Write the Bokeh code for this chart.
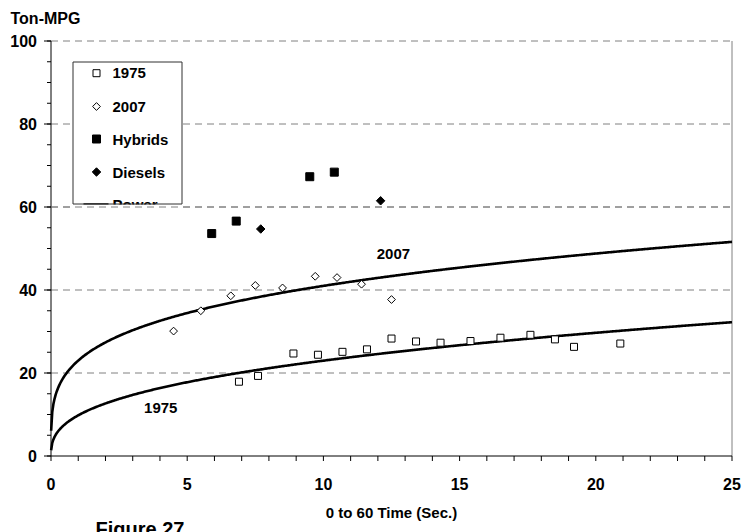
import numpy as np
from bokeh.plotting import figure
from bokeh.models import Range1d, Label
from bokeh.core.properties import value
from bokeh.embed import file_html
from bokeh.resources import INLINE

# ---------------- data ----------------
t_1975 = [6.9, 7.6, 8.9, 9.8, 10.7, 11.6, 12.5, 13.4, 14.3, 15.4, 16.5, 17.6, 18.5, 19.2, 20.9]
mpg_1975 = [17.9, 19.3, 24.7, 24.4, 25.1, 25.7, 28.3, 27.6, 27.3, 27.7, 28.5, 29.2, 28.1, 26.3, 27.1]
t_2007 = [4.5, 5.5, 6.6, 7.5, 8.5, 9.7, 10.5, 11.4, 12.5]
mpg_2007 = [30.1, 35.0, 38.6, 41.1, 40.5, 43.3, 43.0, 41.4, 37.7]
t_hybrids = [5.9, 6.8, 9.5, 10.4]
mpg_hybrids = [53.6, 56.6, 67.3, 68.4]
t_diesels = [7.7, 12.1]
mpg_diesels = [54.7, 61.5]
# power trend lines  y = a * x^b  (coefficients)
power_1975 = (9.8, 0.37)
power_2007 = (23.0, 0.251)
trend_x_start, trend_x_end = 0.005, 25.0
x_ticks = [0, 5, 10, 15, 20, 25]
x_minor_ticks = list(range(0, 26))
y_ticks = [0, 20, 40, 60, 80, 100]
y_minor_ticks = list(range(0, 101, 5))
legend_labels = ["1975", "2007", "Hybrids", "Diesels", "Power"]
x_title = "0 to 60 Time (Sec.)"
y_title = "Ton-MPG"
caption = "Figure 27"

# ---------------- layout (page pixels) ----------------
W, H = 742, 532
FL, FR, FT, FB = 50.5, 731.5, 40.5, 455.5      # plot area edges
XMAX, YMAX = 25.0, 100.0
FONT = "Liberation Sans"
GRID_COLOR = "#808080"
GRID_DASH = "7 5"


def px_x(px):
    return (px - FL) / (FR - FL) * XMAX


def px_y(py):
    return (FB - py) / (FB - FT) * YMAX


# the frame covers the whole page; the axes are drawn with the same scales
p = figure(width=W, height=H, x_range=Range1d(px_x(0), px_x(W)),
           y_range=Range1d(px_y(H), px_y(0)), output_backend="svg",
           toolbar_location=None, title=None, x_axis_location=None, y_axis_location=None,
           min_border=0)
p.outline_line_color = None
p.xgrid.visible = False
p.ygrid.visible = False

bold = dict(text_font=value(FONT), text_font_style="bold", text_color="black")

# grid lines and right border
for gy in y_ticks[1:]:
    p.line([0, XMAX], [gy, gy], line_color=GRID_COLOR, line_width=1, line_dash=GRID_DASH)
p.line([XMAX, XMAX], [0, YMAX], line_color=GRID_COLOR, line_width=1)

# y axis
p.line([0, 0], [0, YMAX], line_color="black", line_width=1)
p.segment(x0=[px_x(FL - 4)] * len(y_minor_ticks), y0=y_minor_ticks,
          x1=[0] * len(y_minor_ticks), y1=y_minor_ticks, line_color="black", line_width=1)
p.segment(x0=[px_x(FL - 7)] * len(y_ticks), y0=y_ticks,
          x1=[0] * len(y_ticks), y1=y_ticks, line_color="black", line_width=1)
p.text(x=[px_x(FL - 14)] * len(y_ticks), y=y_ticks, text=[str(v) for v in y_ticks],
       text_align="right", text_baseline="middle", text_font_size="16px", **bold)
p.text(x=[px_x(10)], y=[px_y(18)], text=[y_title], text_align="left",
       text_baseline="middle", text_font_size="16px", **bold)

# x axis
p.line([0, XMAX], [0, 0], line_color="black", line_width=1)
p.segment(x0=x_minor_ticks, y0=[0] * len(x_minor_ticks), x1=x_minor_ticks,
          y1=[px_y(FB + 5)] * len(x_minor_ticks), line_color="black", line_width=1)
p.text(x=x_ticks, y=[px_y(483)] * len(x_ticks), text=[str(v) for v in x_ticks],
       text_align="center", text_baseline="middle", text_font_size="16px", **bold)
p.text(x=[XMAX / 2], y=[px_y(512)], text=[x_title], text_align="center",
       text_baseline="middle", text_font_size="15px", **bold)

# trend lines
xs = np.linspace(trend_x_start, trend_x_end, 600)
p.line(xs, power_1975[0] * xs ** power_1975[1], line_color="black", line_width=2.6)
p.line(xs, power_2007[0] * xs ** power_2007[1], line_color="black", line_width=2.6)

# points
style_1975 = dict(marker="square", size=7, fill_color="white", line_color="black", line_width=1)
style_2007 = dict(marker="square", angle=np.pi / 4, size=5.5, fill_color="white",
                  line_color="black", line_width=1)
style_hyb = dict(marker="square", size=8, fill_color="black", line_color="black")
style_dsl = dict(marker="square", angle=np.pi / 4, size=6, fill_color="black", line_color="black")
p.scatter(t_1975, mpg_1975, **style_1975)
p.scatter(t_2007, mpg_2007, **style_2007)
p.scatter(t_hybrids, mpg_hybrids, **style_hyb)
p.scatter(t_diesels, mpg_diesels, **style_dsl)

for txt, xv, yv in (("2007", 12.57, 48.6), ("1975", 4.03, 11.6)):
    p.add_layout(Label(x=xv, y=yv, text=txt, text_align="center", text_baseline="middle",
                       text_font=FONT, text_font_style="bold", text_font_size="15px",
                       text_color="black"))

# ---------------- legend (drawn with glyphs so the last entry can be cut off) ----------------
box_l, box_r, box_t, box_b = 72.5, 181.5, 61.5, 203.5
row_px = [72.7, 106, 138.5, 171.5, 204]
mark_px, text_px = 96, 112
p.quad(left=px_x(box_l), right=px_x(box_r), top=px_y(box_t), bottom=px_y(box_b),
       fill_color="white", line_color=None)
for style, ry in zip((style_1975, style_2007, style_hyb, style_dsl), row_px[:4]):
    p.scatter([px_x(mark_px)], [px_y(ry)], **style)
p.line([px_x(83), px_x(108)], [px_y(row_px[4])] * 2, line_color="black", line_width=2.6)
p.text(x=[px_x(text_px)] * 5, y=[px_y(r) for r in row_px], text=legend_labels,
       text_font_size="15px", text_baseline="middle", text_align="left", **bold)
# cut the last entry at the bottom edge of the box, then restore the grid line
p.quad(left=px_x(box_l + 0.5), right=px_x(box_r - 0.5), top=px_y(box_b + 0.5),
       bottom=px_y(box_b + 14), fill_color="white", line_color=None)
p.line([0, XMAX], [60, 60], line_color=GRID_COLOR, line_width=1, line_dash=GRID_DASH)
p.quad(left=px_x(box_l), right=px_x(box_r), top=px_y(box_t), bottom=px_y(box_b),
       fill_alpha=0, line_color="#303030", line_width=1)

# figure caption at the bottom (cut by the page edge as in the original)
p.text(x=[px_x(95)], y=[px_y(528)], text=[caption], text_align="left",
       text_baseline="alphabetic", text_font_size="20px", **bold)

open("out.html", "w").write(file_html(p, INLINE))
